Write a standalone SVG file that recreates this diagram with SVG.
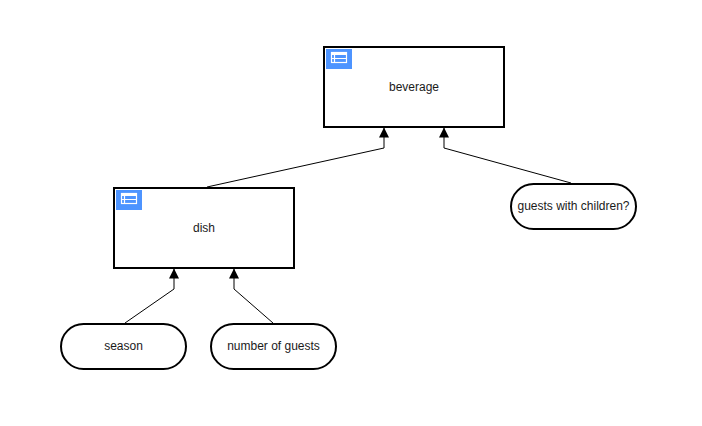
<svg xmlns="http://www.w3.org/2000/svg" width="702" height="426" viewBox="0 0 702 426">
<style>
text{font-family:"Liberation Sans",Arial,sans-serif;font-size:12px;fill:#1a1a1a;text-anchor:middle}
.box{fill:#fff;stroke:#000;stroke-width:2}
.badge{fill:#4d94ff}
.ic{fill:none;stroke:#fff;stroke-width:1.200}
.c{fill:none;stroke:#000;stroke-width:1}
</style>
<defs>
<marker id="a" markerUnits="userSpaceOnUse" markerWidth="12" markerHeight="12" refX="10" refY="5" orient="auto"><path d="M0 0L10 5L0 10Z" fill="#000"/></marker>
<g id="icon"><rect width="26" height="20" class="badge"/><rect x="5" y="3" width="16" height="3" fill="#fff"/><rect x="5.500" y="3.500" width="15" height="10" class="ic"/><path d="M5.500 9.500H20.500M8.500 6V13.500" class="ic"/></g>
</defs>
<rect width="702" height="426" fill="#fff"/>
<g id="beverage"><rect class="box" x="324" y="47" width="180" height="80"/><use href="#icon" x="326" y="49"/><text x="414" y="91">beverage</text></g>
<g id="dish"><rect class="box" x="114" y="188" width="180" height="80"/><use href="#icon" x="116" y="190"/><text x="204" y="232">dish</text></g>
<g id="guests-with-children"><rect class="box" x="511" y="184" width="125" height="45" rx="22.500"/><text x="573.500" y="210">guests with children?</text></g>
<g id="season"><rect class="box" x="61" y="324" width="125" height="45" rx="22.500"/><text x="123.500" y="350">season</text></g>
<g id="number-of-guests"><rect class="box" x="211" y="324" width="125" height="45" rx="22.500"/><text x="273.500" y="350">number of guests</text></g>
<g id="connectors">
<path class="c" d="M207 187L384 148V127.500" marker-end="url(#a)"/>
<path class="c" d="M571 183L444 148V127.500" marker-end="url(#a)"/>
<path class="c" d="M125 323L174 289V268.500" marker-end="url(#a)"/>
<path class="c" d="M273 323L234 289V268.500" marker-end="url(#a)"/>
</g>
</svg>
